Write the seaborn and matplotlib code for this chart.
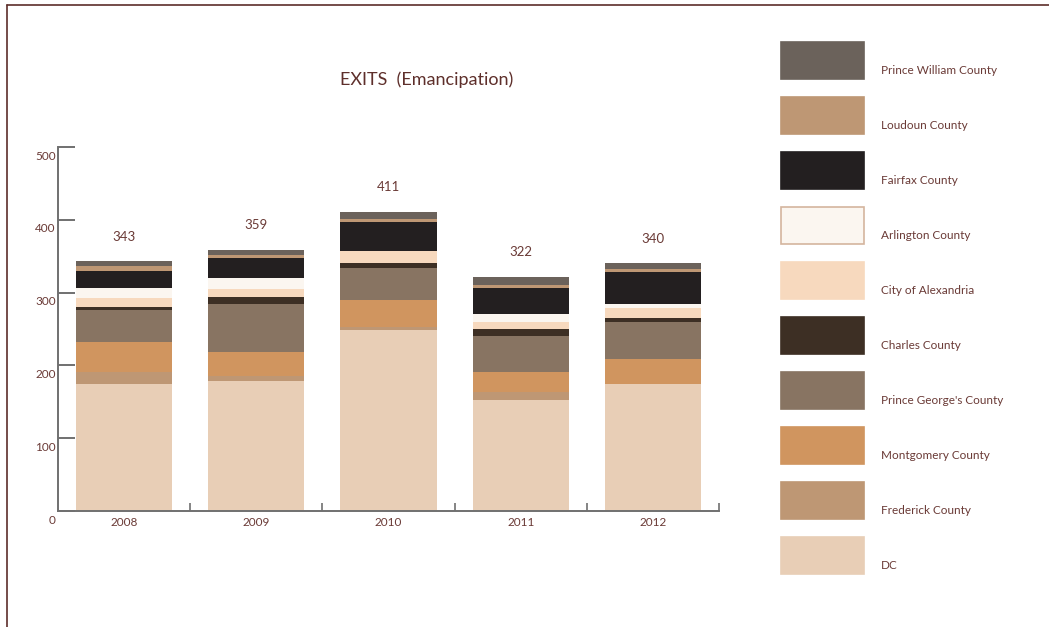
import matplotlib
matplotlib.use("Agg")
import matplotlib.pyplot as plt
from matplotlib.patches import Patch
from matplotlib.lines import Line2D
from matplotlib.transforms import ScaledTranslation
import pandas as pd
import seaborn as sns

years = ["2008", "2009", "2010", "2011", "2012"]

# Exits (emancipation) per jurisdiction, listed bottom of the stack to top
dc = [175, 179, 249, 153, 175]
frederick = [16, 6, 4, 10, 0]
montgomery = [41, 33, 37, 28, 34]
prince_georges = [44, 66, 44, 49, 51]
charles = [4, 10, 7, 10, 5]
alexandria = [12, 11, 16, 10, 14]
arlington = [14, 15, 0, 10, 5]
fairfax = [23, 27, 40, 36, 44]
loudoun = [7, 4, 4, 4, 4]
prince_william = [7, 8, 10, 12, 8]

series_names = ["DC", "Frederick County", "Montgomery County",
                "Prince George's County", "Charles County", "City of Alexandria",
                "Arlington County", "Fairfax County", "Loudoun County",
                "Prince William County"]
series_values = [dc, frederick, montgomery, prince_georges, charles,
                 alexandria, arlington, fairfax, loudoun, prince_william]
series_colors = ["#E8CEB6", "#BE9774", "#D0955F", "#887462", "#3D2F24",
                 "#F7D9BE", "#FBF6F0", "#231F20", "#BE9774", "#6B625B"]

y_ticks = [0, 100, 200, 300, 400, 500]

TEXT = "#6A3A36"
AXIS = "#707070"

sns.set_style("white")
plt.rcParams["font.family"] = ["Lato", "DejaVu Sans"]

df = pd.DataFrame(dict(zip(series_names, series_values)), index=years)
cum = df.cumsum(axis=1)
totals = df.sum(axis=1)

W, H = 1049, 627
DPI = 100
fig = plt.figure(figsize=(W / DPI, H / DPI), dpi=DPI)
ax = fig.add_axes([58 / W, 116 / H, 661 / W, 364 / H])

# Stacked bars: draw cumulative heights from the top layer down
for name, color in reversed(list(zip(series_names, series_colors))):
    sns.barplot(x=years, y=cum[name].values, color=color, saturation=1,
                width=0.727, errorbar=None, linewidth=0, edgecolor="none", ax=ax)

for i, year in enumerate(years):
    ax.text(i, totals[year] + 34, f"{totals[year]:d}", ha="center", va="center",
            fontsize=9.5, color=TEXT)

ax.set_xlim(-0.5, len(years) - 0.5)
ax.set_ylim(0, 500)
ax.set_xlabel("")
ax.set_ylabel("")

for side in ("top", "right"):
    ax.spines[side].set_visible(False)
for side in ("left", "bottom"):
    ax.spines[side].set_color(AXIS)
    ax.spines[side].set_linewidth(1.4)

ax.set_yticks(y_ticks)
ax.set_yticklabels([str(t) for t in y_ticks])
ax.tick_params(axis="y", left=True, direction="in", length=12, width=1.4,
               color=AXIS, pad=1.5, labelsize=8.5, labelcolor=TEXT)

ax.set_xticks(range(len(years)))
ax.set_xticklabels(years)
ax.set_xticks([i + 0.5 for i in range(len(years))], minor=True)
ax.tick_params(axis="x", which="major", bottom=True, length=0, pad=4,
               labelsize=8.5, labelcolor=TEXT)
ax.tick_params(axis="x", which="minor", bottom=True, direction="in", length=6,
               width=1.2, color=AXIS)

# y tick labels sit a little below their tick marks
shift = ScaledTranslation(0, -8 / DPI, fig.dpi_scale_trans)
for tick in ax.yaxis.get_major_ticks():
    tick.label1.set_transform(tick.label1.get_transform() + shift)

fig.text(427 / W, 1 - 80 / H, "EXITS  (Emancipation)", ha="center",
         va="center", fontsize=13, color="#5E2F2B")

# Legend, top layer first
handles = []
for name, color in reversed(list(zip(series_names, series_colors))):
    edge = "#D4B59E" if name == "Arlington County" else color
    handles.append(Patch(facecolor=color, edgecolor=edge, linewidth=1.2,
                         label=name))
fs = 8.5
px = fs * DPI / 72
swatch_h = 37 / px
hh = (swatch_h - 0.245) / 0.65
leg = fig.legend(handles=handles, loc="upper left",
                 bbox_to_anchor=(781 / W, 1 - 42 / H), frameon=False,
                 fontsize=fs, handlelength=83 / px, handleheight=hh,
                 labelspacing=18 / px, handletextpad=17 / px, borderpad=0,
                 borderaxespad=0, labelcolor=TEXT)
lshift = ScaledTranslation(0, -10 / DPI, fig.dpi_scale_trans)
for t in leg.get_texts():
    t.set_transform(t.get_transform() + lshift)

# Page frame on the top and left edges
frame = "#5C2E2A"
fig.add_artist(Line2D([7 / W, 1], [1 - 5 / H, 1 - 5 / H], color=frame,
                      linewidth=1.2, transform=fig.transFigure))
fig.add_artist(Line2D([7 / W, 7 / W], [0, 1 - 5 / H], color=frame,
                      linewidth=1.2, transform=fig.transFigure))

fig.savefig("out.png", dpi=DPI, facecolor="white")
